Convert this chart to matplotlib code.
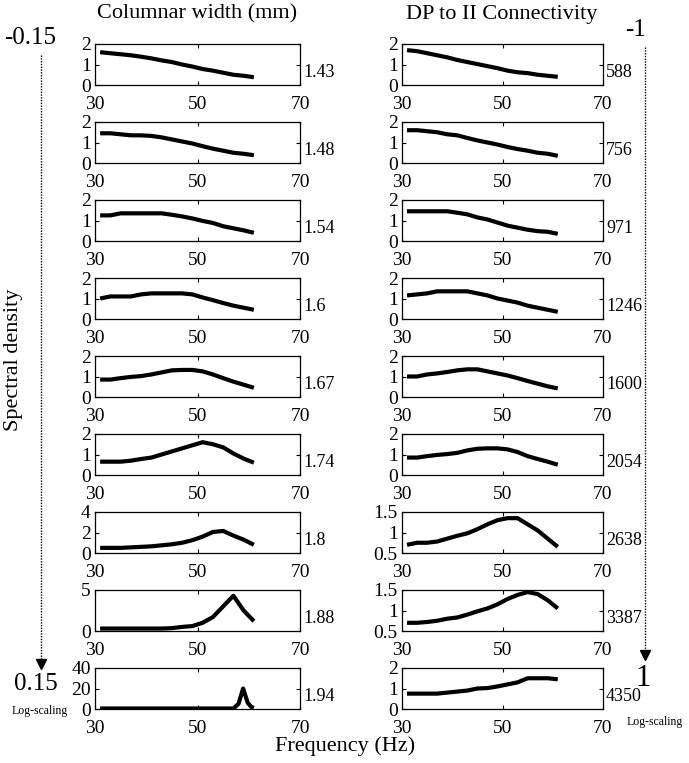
import matplotlib
matplotlib.use("Agg")
import matplotlib.pyplot as plt

plt.rcParams['font.family'] = ['Liberation Serif', 'DejaVu Serif']

freq = [31, 33, 35, 37, 39, 41, 43, 45, 47, 49, 51, 53, 55, 57, 59, 61]

# columnar width panels
width_labels = ["1.43", "1.48", "1.54", "1.6", "1.67", "1.74", "1.8", "1.88", "1.94"]
w143 = [1.6, 1.55, 1.5, 1.45, 1.38, 1.3, 1.2, 1.12, 1.0, 0.9, 0.78, 0.7, 0.6, 0.5, 0.45, 0.38]
w148 = [1.45, 1.45, 1.4, 1.35, 1.35, 1.32, 1.25, 1.15, 1.05, 0.95, 0.82, 0.7, 0.6, 0.5, 0.45, 0.38]
w154 = [1.25, 1.25, 1.35, 1.35, 1.35, 1.35, 1.35, 1.28, 1.2, 1.1, 0.98, 0.88, 0.72, 0.62, 0.52, 0.4]
w160 = [1.0, 1.1, 1.1, 1.1, 1.2, 1.25, 1.25, 1.25, 1.25, 1.2, 1.05, 0.92, 0.78, 0.65, 0.55, 0.45]
w167 = [0.85, 0.85, 0.92, 0.98, 1.02, 1.1, 1.2, 1.3, 1.32, 1.32, 1.25, 1.1, 0.92, 0.75, 0.6, 0.45]
w174 = [0.65, 0.65, 0.65, 0.7, 0.78, 0.85, 1.0, 1.15, 1.3, 1.45, 1.6, 1.5, 1.35, 1.05, 0.8, 0.6]
w180 = [0.5, 0.5, 0.5, 0.55, 0.6, 0.65, 0.75, 0.85, 1.0, 1.25, 1.6, 2.05, 2.15, 1.7, 1.3, 0.8]
w188 = [0.3, 0.3, 0.3, 0.3, 0.3, 0.3, 0.3, 0.35, 0.5, 0.6, 1.0, 1.7, 3.0, 4.3, 2.5, 1.2]
freq194 = [31, 57, 58, 58.9, 59.8, 60.5, 61]
w194 = [0.5, 0.5, 5, 20, 6, 2, 1]

# connectivity panels
conn_labels = ["588", "756", "971", "1246", "1600", "2054", "2638", "3387", "4350"]
c588 = [1.7, 1.65, 1.55, 1.45, 1.35, 1.22, 1.12, 1.02, 0.92, 0.82, 0.7, 0.62, 0.58, 0.5, 0.45, 0.4]
c756 = [1.6, 1.6, 1.55, 1.5, 1.4, 1.35, 1.22, 1.1, 1.0, 0.9, 0.78, 0.68, 0.6, 0.5, 0.45, 0.35]
c971 = [1.45, 1.45, 1.45, 1.45, 1.45, 1.38, 1.3, 1.15, 1.05, 0.9, 0.75, 0.65, 0.55, 0.48, 0.45, 0.35]
c1246 = [1.15, 1.2, 1.25, 1.35, 1.35, 1.35, 1.35, 1.25, 1.15, 1.0, 0.9, 0.8, 0.65, 0.55, 0.45, 0.35]
c1600 = [1.0, 1.0, 1.1, 1.15, 1.22, 1.3, 1.35, 1.35, 1.25, 1.15, 1.05, 0.92, 0.78, 0.65, 0.52, 0.42]
c2054 = [0.85, 0.85, 0.92, 0.98, 1.02, 1.08, 1.2, 1.28, 1.3, 1.3, 1.25, 1.12, 0.92, 0.78, 0.65, 0.5]
c2638 = [0.7, 0.75, 0.75, 0.78, 0.85, 0.92, 0.98, 1.08, 1.2, 1.3, 1.35, 1.35, 1.2, 1.05, 0.85, 0.65]
c3387 = [0.7, 0.7, 0.72, 0.75, 0.8, 0.83, 0.9, 0.98, 1.05, 1.15, 1.28, 1.38, 1.45, 1.4, 1.25, 1.05]
c4350 = [0.75, 0.75, 0.75, 0.75, 0.8, 0.85, 0.9, 1.0, 1.02, 1.1, 1.2, 1.3, 1.5, 1.5, 1.5, 1.45]

left_x = [freq] * 8 + [freq194]
left_y = [w143, w148, w154, w160, w167, w174, w180, w188, w194]
left_yticks = [[0, 1, 2]] * 6 + [[0, 2, 4], [0, 5], [0, 20, 40]]
right_y = [c588, c756, c971, c1246, c1600, c2054, c2638, c3387, c4350]
right_yticks = [[0, 1, 2]] * 6 + [[0.5, 1, 1.5], [0.5, 1, 1.5], [0, 1, 2]]
xticks = [30, 50, 70]

W, H = 689, 763
fig = plt.figure(figsize=(W / 100, H / 100), dpi=100)


def panel(x0, w, row, xs, ys, yt, lab):
    top = 44 + 78 * row
    ax = fig.add_axes([x0 / W, 1 - (top + 41) / H, w / W, 41 / H])
    ax.plot(xs, ys, color='black', lw=3.0, solid_capstyle='butt')
    ax.set_xlim(30, 70)
    ax.set_ylim(yt[0], yt[-1])
    ax.set_xticks(xticks)
    ax.set_yticks(yt)
    ax.set_yticklabels([f"{v:g}" for v in yt])
    ax.tick_params(direction='in', top=True, right=True, length=3, width=0.8,
                   labelsize=14)
    ax.tick_params(axis='x', pad=8)
    ax.tick_params(axis='y', pad=3)
    for s in ax.spines.values():
        s.set_linewidth(0.9)
    ax.text(1.015, 0.3, lab, transform=ax.transAxes, fontsize=13,
            ha='left', va='center')
    return ax


for i in range(9):
    panel(95, 205, i, left_x[i], left_y[i], left_yticks[i], width_labels[i])
    panel(402, 201, i, freq, right_y[i], right_yticks[i], conn_labels[i])

# headings and side annotations
fig.text(197 / W, 1 - 14 / H, "Columnar width (mm)", fontsize=16, ha='center', va='center')
fig.text(502 / W, 1 - 14 / H, "DP to II Connectivity", fontsize=16, ha='center', va='center')
fig.text(345 / W, 1 - 746 / H, "Frequency (Hz)", fontsize=16, ha='center', va='center')
fig.text(14 / W, 1 - 360 / H, "Spectral density", fontsize=16, rotation=90,
         ha='center', va='center')

fig.text(30 / W, 1 - 38 / H, "-0.15", fontsize=18, ha='center', va='center')
fig.text(36 / W, 1 - 684 / H, "0.15", fontsize=18, ha='center', va='center')
fig.text(40 / W, 1 - 711 / H, "Log-scaling", fontsize=8.5, ha='center', va='center')
fig.text(636 / W, 1 - 30 / H, "-1", fontsize=18, ha='center', va='center')
fig.text(643 / W, 1 - 678 / H, "1", fontsize=22, ha='center', va='center')
fig.text(655 / W, 1 - 722 / H, "Log-scaling", fontsize=8.5, ha='center', va='center')

# dotted arrows
fig.add_artist(plt.Line2D([41 / W, 41 / W], [1 - 55 / H, 1 - 662 / H], color='black',
                          lw=1, ls=(0, (1, 1))))
fig.add_artist(plt.Line2D([41 / W], [1 - 664 / H], marker='v', color='black', markersize=7))
fig.add_artist(plt.Line2D([645 / W, 645 / W], [1 - 47 / H, 1 - 652 / H], color='black',
                          lw=1, ls=(0, (1, 1))))
fig.add_artist(plt.Line2D([645 / W], [1 - 655 / H], marker='v', color='black', markersize=7))

fig.savefig("out.png", dpi=100)
